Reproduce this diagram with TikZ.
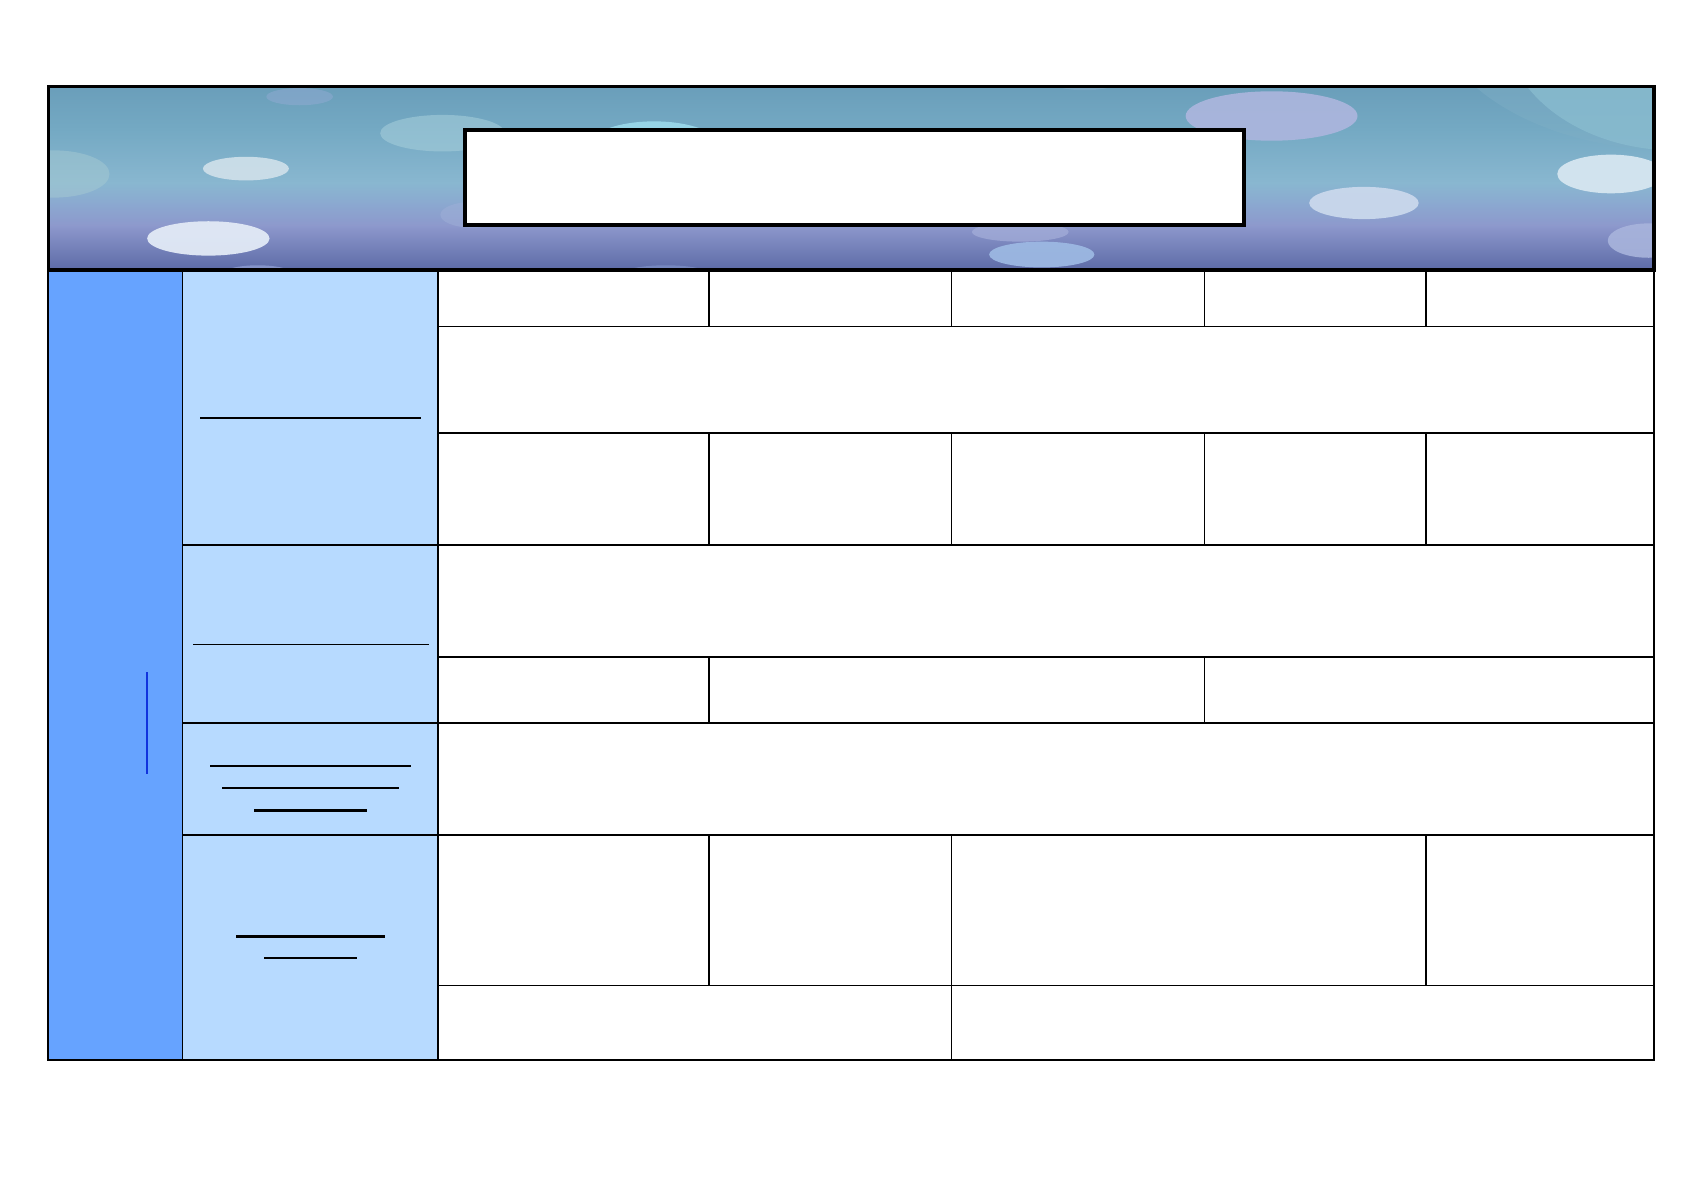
\documentclass[tikz,border=0pt]{standalone}
\definecolor{colA}{HTML}{66A3FF}
\definecolor{colB}{HTML}{B7DAFF}
\definecolor{hA}{HTML}{6A9EBA}
\definecolor{hB}{HTML}{74A9C3}
\definecolor{hC}{HTML}{89B7D0}
\definecolor{hM}{HTML}{8BA8D0}
\definecolor{hD}{HTML}{8D98CC}
\definecolor{hE}{HTML}{5C6AA6}
\definecolor{vline}{HTML}{1133DD}
\begin{document}
\begin{tikzpicture}[x=1pt,y=-1pt,
  gridline/.style={line width=1.6pt,black},
  outerline/.style={line width=2pt,black},
  uline/.style={line width=2pt,black},
  titlebox/.style={draw=black,line width=3.8pt,fill=white,rectangle,inner sep=0pt,minimum width=725pt,minimum height=88.5pt,anchor=north west},
]
\useasboundingbox (0,0) rectangle (1568,1108.6);
\fill[white] (0,0) rectangle (1568,1108.6);
% column fills
\fill[colA] (45,251) rectangle (170,987);
\fill[colB] (170,251) rectangle (408,987);
% header background
\begin{scope}
  \clip (45,80.5) rectangle (1540,251.3);
  \shade[top color=hA,bottom color=hB] (45,80) rectangle (1540,121);
  \shade[top color=hB,bottom color=hC] (45,120) rectangle (1540,171);
  \shade[top color=hC,bottom color=hM] (45,170) rectangle (1540,191);
  \shade[top color=hM,bottom color=hD] (45,190) rectangle (1540,211);
  \shade[top color=hD,bottom color=hE] (45,210) rectangle (1540,252);
  % bubbles
  \fill[fill={rgb,255:red,127;green,175;blue,198},fill opacity=0.45] (1560,0) ellipse [x radius=228,y radius=140];
  \fill[fill={rgb,255:red,138;green,189;blue,208},fill opacity=0.75] (1560,20) ellipse [x radius=160,y radius=120];
  \fill[fill={rgb,255:red,150;green,172;blue,214},fill opacity=0.45] (279,90) ellipse [x radius=31,y radius=8];
  \fill[fill={rgb,255:red,168;green,208;blue,220},fill opacity=0.55] (412,124) ellipse [x radius=58,y radius=17];
  \fill[fill={rgb,255:red,160;green,224;blue,240},fill opacity=0.8] (609,135) ellipse [x radius=60,y radius=22];
  \fill[fill={rgb,255:red,207;green,224;blue,234},fill opacity=0.92] (229,157) ellipse [x radius=40,y radius=11];
  \fill[fill={rgb,255:red,166;green,202;blue,210},fill opacity=0.5] (50,162) ellipse [x radius=52,y radius=22];
  \fill[fill={rgb,255:red,226;green,234;blue,246},fill opacity=0.95] (194,222) ellipse [x radius=57,y radius=16];
  \fill[fill={rgb,255:red,168;green,184;blue,232},fill opacity=0.5] (240,256) ellipse [x radius=34,y radius=9];
  \fill[fill={rgb,255:red,173;green,182;blue,222},fill opacity=0.9] (1184,108) ellipse [x radius=80,y radius=23];
  \fill[fill={rgb,255:red,202;green,216;blue,236},fill opacity=0.95] (1270,189) ellipse [x radius=51,y radius=15];
  \fill[fill={rgb,255:red,214;green,230;blue,240},fill opacity=0.95] (1500,162) ellipse [x radius=50,y radius=18];
  \fill[fill={rgb,255:red,168;green,180;blue,220},fill opacity=0.9] (1535,224) ellipse [x radius=38,y radius=16];
  \fill[fill={rgb,255:red,165;green,175;blue,218},fill opacity=0.7] (950,216) ellipse [x radius=45,y radius=9];
  \fill[fill={rgb,255:red,156;green,184;blue,226},fill opacity=0.95] (970,237) ellipse [x radius=49,y radius=12];
  \fill[fill={rgb,255:red,143;green,165;blue,216},fill opacity=0.45] (620,255) ellipse [x radius=40,y radius=8];
  \fill[fill={rgb,255:red,160;green,176;blue,216},fill opacity=0.5] (440,200) ellipse [x radius=30,y radius=12];
  \fill[fill={rgb,255:red,150;green,180;blue,210},fill opacity=0.35] (1010,78) ellipse [x radius=28,y radius=6];
\end{scope}
\draw[line width=3.2pt] (45,80.5) rectangle (1540,251.3);
\node[titlebox] (title) at (431,119) {};
% table grid: horizontal lines
\draw[gridline] (408,304) -- (1540,304);
\draw[gridline] (408,403) -- (1540,403);
\draw[gridline] (170,507.5) -- (1540,507.5);
\draw[gridline] (408,611.5) -- (1540,611.5);
\draw[gridline] (170,673) -- (1540,673);
\draw[gridline] (170,777.5) -- (1540,777.5);
\draw[gridline] (408,917.5) -- (1540,917.5);
% vertical lines
\draw[gridline] (170,251) -- (170,987);
\draw[gridline] (408,251) -- (408,987);
\foreach \xx in {660,886,1121.5,1327.5} {
  \draw[gridline] (\xx,251) -- (\xx,304);
  \draw[gridline] (\xx,403) -- (\xx,507.5);
}
\foreach \xx in {660,1121.5} \draw[gridline] (\xx,611.5) -- (\xx,673);
\foreach \xx in {660,886,1327.5} \draw[gridline] (\xx,777.5) -- (\xx,917.5);
\draw[gridline] (886,917.5) -- (886,987);
% outer border of table
\draw[outerline] (45,251) -- (45,987) -- (1540,987) -- (1540,251);
% underline strokes in column B
\draw[uline] (186.3,389) -- (392.2,389);
\draw[line width=1pt] (180,600) -- (399,600);
\draw[uline] (195.6,713.3) -- (382.9,713.3);
\draw[uline] (206.8,734.1) -- (371.7,734.1);
\draw[uline] (236.6,754.6) -- (341.9,754.6);
\draw[uline] (219.9,872) -- (358.7,872);
\draw[uline] (245.9,892.2) -- (332.6,892.2);
% blue vertical stroke in column A
\draw[vline,line width=1.6pt] (136.6,625.7) -- (136.6,721);
\end{tikzpicture}
\end{document}
